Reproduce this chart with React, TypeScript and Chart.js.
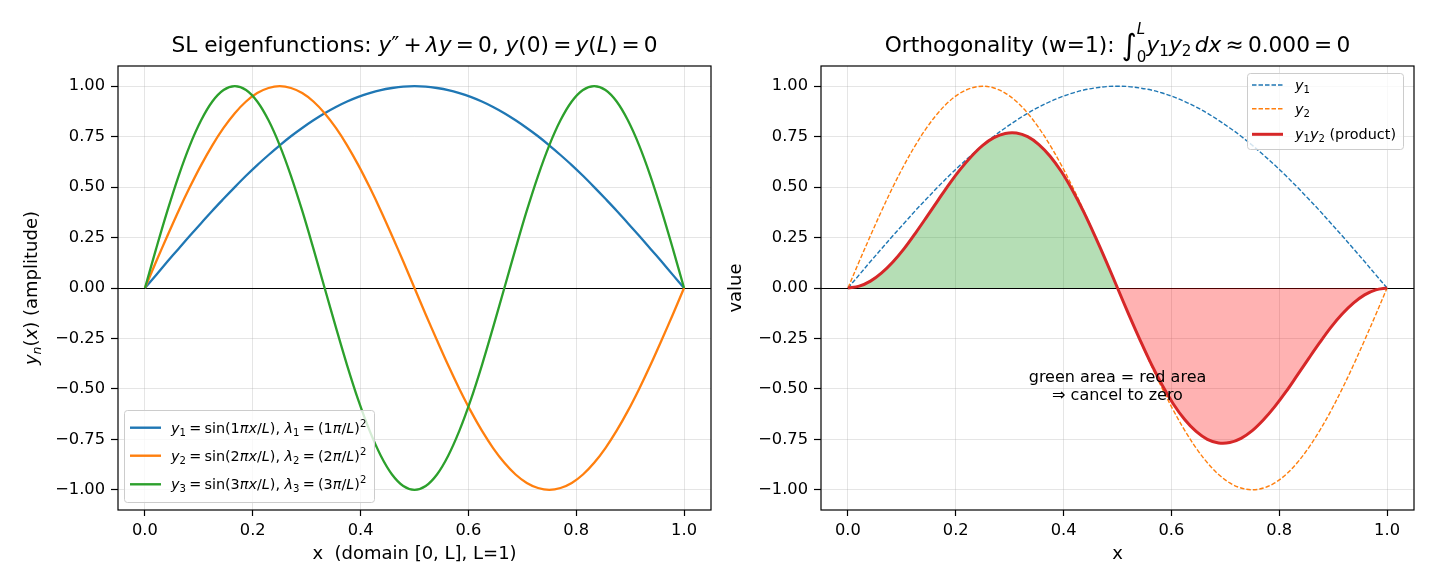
import React, { useEffect, useRef } from 'react';
import { Chart, registerables } from 'chart.js';

Chart.register(...registerables);

// sample positions x = 0 .. 1 (L = 1)
const xs = [0, 0.0208, 0.0417, 0.0625, 0.0833, 0.1042, 0.125, 0.1458, 0.1667, 0.1875, 0.2083, 0.2292, 0.25, 0.2708, 0.2917, 0.3125, 0.3333, 0.3542, 0.375, 0.3958, 0.4167, 0.4375, 0.4583, 0.4792, 0.5, 0.5208, 0.5417, 0.5625, 0.5833, 0.6042, 0.625, 0.6458, 0.6667, 0.6875, 0.7083, 0.7292, 0.75, 0.7708, 0.7917, 0.8125, 0.8333, 0.8542, 0.875, 0.8958, 0.9167, 0.9375, 0.9583, 0.9792, 1];

const y1 = [0, 0.065, 0.131, 0.195, 0.259, 0.321, 0.383, 0.442, 0.5, 0.556, 0.609, 0.659, 0.707, 0.752, 0.793, 0.831, 0.866, 0.897, 0.924, 0.947, 0.966, 0.981, 0.991, 0.998, 1, 0.998, 0.991, 0.981, 0.966, 0.947, 0.924, 0.897, 0.866, 0.831, 0.793, 0.752, 0.707, 0.659, 0.609, 0.556, 0.5, 0.442, 0.383, 0.321, 0.259, 0.195, 0.131, 0.065, 0];

const y2 = [0, 0.131, 0.259, 0.383, 0.5, 0.609, 0.707, 0.793, 0.866, 0.924, 0.966, 0.991, 1, 0.991, 0.966, 0.924, 0.866, 0.793, 0.707, 0.609, 0.5, 0.383, 0.259, 0.131, 0, -0.131, -0.259, -0.383, -0.5, -0.609, -0.707, -0.793, -0.866, -0.924, -0.966, -0.991, -1, -0.991, -0.966, -0.924, -0.866, -0.793, -0.707, -0.609, -0.5, -0.383, -0.259, -0.131, 0];

const y3 = [0, 0.195, 0.383, 0.556, 0.707, 0.831, 0.924, 0.981, 1, 0.981, 0.924, 0.831, 0.707, 0.556, 0.383, 0.195, 0, -0.195, -0.383, -0.556, -0.707, -0.831, -0.924, -0.981, -1, -0.981, -0.924, -0.831, -0.707, -0.556, -0.383, -0.195, 0, 0.195, 0.383, 0.556, 0.707, 0.831, 0.924, 0.981, 1, 0.981, 0.924, 0.831, 0.707, 0.556, 0.383, 0.195, 0];

const product = [0, 0.009, 0.034, 0.075, 0.129, 0.195, 0.271, 0.351, 0.433, 0.514, 0.588, 0.653, 0.707, 0.745, 0.766, 0.768, 0.75, 0.711, 0.653, 0.577, 0.483, 0.376, 0.257, 0.131, 0, -0.131, -0.257, -0.376, -0.483, -0.577, -0.653, -0.711, -0.75, -0.768, -0.766, -0.745, -0.707, -0.653, -0.588, -0.514, -0.433, -0.351, -0.271, -0.195, -0.129, -0.075, -0.034, -0.009, 0];

const xTicks = [0, 0.2, 0.4, 0.6, 0.8, 1.0];
const yTicks = [-1, -0.75, -0.5, -0.25, 0, 0.25, 0.5, 0.75, 1];

const FONT = '"DejaVu Sans", sans-serif';
const C0 = '#1f77b4';
const C1 = '#ff7f0e';
const C2 = '#2ca02c';
const C3 = '#d62728';

type Seg = { t: string; it?: boolean; s?: number; dy?: number; noAdv?: boolean };

function segFont(seg: Seg, size: number) {
  return `${seg.it ? 'italic ' : ''}${size * (seg.s ?? 1)}px ${FONT}`;
}

function measureRich(ctx: CanvasRenderingContext2D, segs: Seg[], size: number) {
  let w = 0;
  for (const sg of segs) {
    ctx.font = segFont(sg, size);
    if (!sg.noAdv) w += ctx.measureText(sg.t).width;
  }
  return w;
}

function drawRich(ctx: CanvasRenderingContext2D, segs: Seg[], x: number, y: number, size: number, align: 'left' | 'center' = 'left', color = '#000') {
  let cx = align === 'center' ? x - measureRich(ctx, segs, size) / 2 : x;
  ctx.save();
  ctx.fillStyle = color;
  ctx.textAlign = 'left';
  ctx.textBaseline = 'alphabetic';
  for (const sg of segs) {
    ctx.font = segFont(sg, size);
    ctx.fillText(sg.t, cx, y + (sg.dy ?? 0) * size);
    if (!sg.noAdv) cx += ctx.measureText(sg.t).width;
  }
  ctx.restore();
}

const SUB = { s: 0.7, dy: 0.2 };
const SP: Seg = { t: ' ', s: 0.6 };

const leftTitle: Seg[] = [
  { t: 'SL eigenfunctions: ' }, { t: 'y', it: true }, { t: '″' }, SP, { t: '+' }, SP, { t: 'λy', it: true },
  SP, { t: '=' }, SP, { t: '0, ' }, { t: 'y', it: true }, { t: '(0)' }, SP, { t: '=' }, SP, { t: 'y', it: true }, { t: '(' }, { t: 'L', it: true }, { t: ')' }, SP, { t: '=' }, SP, { t: '0' },
];

const rightTitle: Seg[] = [
  { t: 'Orthogonality (w=1): ' }, { t: '∫', s: 1.35, dy: 0.12 }, { t: 'L', it: true, s: 0.7, dy: -0.85, noAdv: true },
  { t: '0', s: 0.7, dy: 0.45 }, { t: 'y', it: true }, { t: '1', ...SUB }, { t: 'y', it: true }, { t: '2', ...SUB },
  { t: ' ', s: 0.5 }, { t: 'dx', it: true }, SP, { t: '≈' }, SP, { t: '0.000' }, SP, { t: '=' }, SP, { t: '0' },
];

function eigenLabel(n: string): Seg[] {
  const sp: Seg = { t: ' ', s: 0.7 };
  return [
    { t: 'y', it: true }, { t: n, ...SUB }, sp, { t: '=' }, sp, { t: 'sin(' + n }, { t: 'πx', it: true }, { t: '/' }, { t: 'L', it: true },
    { t: '), ' }, { t: 'λ', it: true }, { t: n, ...SUB }, sp, { t: '=' }, sp, { t: '(' + n }, { t: 'π', it: true }, { t: '/' }, { t: 'L', it: true },
    { t: ')' }, { t: '2', s: 0.7, dy: -0.42 },
  ];
}

const leftLegend = [
  { color: C0, dash: [] as number[], width: 2.4, segs: eigenLabel('1') },
  { color: C1, dash: [] as number[], width: 2.4, segs: eigenLabel('2') },
  { color: C2, dash: [] as number[], width: 2.4, segs: eigenLabel('3') },
];

const rightLegend = [
  { color: C0, dash: [4.5, 2], width: 1.4, segs: [{ t: 'y', it: true }, { t: '1', ...SUB }] as Seg[] },
  { color: C1, dash: [4.5, 2], width: 1.4, segs: [{ t: 'y', it: true }, { t: '2', ...SUB }] as Seg[] },
  { color: C3, dash: [] as number[], width: 3, segs: [{ t: 'y', it: true }, { t: '1', ...SUB }, { t: 'y', it: true }, { t: '2', ...SUB }, { t: ' (product)' }] as Seg[] },
];

const leftYLabel: Seg[] = [{ t: 'y', it: true }, { t: 'n', it: true, ...SUB }, { t: '(' }, { t: 'x', it: true }, { t: ') (amplitude)' }];

function pts(ys: number[]) {
  return xs.map((x, i) => ({ x, y: ys[i] }));
}

function drawLegend(ctx: CanvasRenderingContext2D, box: { l: number; t: number; r: number; b: number }, rows: number[], hx0: number, hx1: number, tx: number, items: typeof leftLegend) {
  ctx.save();
  ctx.beginPath();
  (ctx as any).roundRect(box.l + 0.5, box.t + 0.5, box.r - box.l, box.b - box.t, 3);
  ctx.fillStyle = 'rgba(255,255,255,0.8)';
  ctx.fill();
  ctx.strokeStyle = '#cccccc';
  ctx.lineWidth = 1;
  ctx.stroke();
  items.forEach((it, i) => {
    const y = rows[i];
    ctx.beginPath();
    ctx.setLineDash(it.dash);
    ctx.strokeStyle = it.color;
    ctx.lineWidth = it.width;
    ctx.moveTo(hx0, y);
    ctx.lineTo(hx1, y);
    ctx.stroke();
    ctx.setLineDash([]);
    drawRich(ctx, it.segs, tx, y + 5, 14.4);
  });
  ctx.restore();
}

function makeScales(yWidth: number) {
  const grid = { color: 'rgba(176,176,176,0.33)', lineWidth: 1, tickColor: '#000', tickWidth: 1.2, tickLength: 6, drawTicks: true };
  return {
    x: {
      type: 'linear' as const,
      min: -0.05,
      max: 1.05,
      afterBuildTicks: (s: any) => { s.ticks = xTicks.map((v) => ({ value: v })); },
      afterFit: (s: any) => { s.height = 75; },
      ticks: { callback: (v: any) => Number(v).toFixed(1), font: { family: FONT, size: 16.25 }, color: '#000', padding: 5, maxRotation: 0, autoSkip: false },
      grid,
      border: { display: false },
    },
    y: {
      type: 'linear' as const,
      min: -1.1,
      max: 1.1,
      afterBuildTicks: (s: any) => { s.ticks = yTicks.map((v) => ({ value: v })); },
      afterFit: (s: any) => { s.width = yWidth; },
      ticks: { callback: (v: any) => (v < 0 ? '\u2212' : '') + Math.abs(Number(v)).toFixed(2), font: { family: FONT, size: 16.25 }, color: '#000', padding: 6, autoSkip: false },
      grid: { ...grid, tickLength: 7 },
      border: { display: false },
    },
  };
}

function decoPlugin(opts: { title: Seg[]; xLabel: string; yLabel: Seg[]; yLabelX: number; legend: (ctx: CanvasRenderingContext2D) => void; extra?: (chart: any) => void }) {
  return {
    id: 'deco',
    beforeDatasetsDraw(chart: any) {
      const { ctx, chartArea: a, scales } = chart;
      const y0 = Math.round(scales.y.getPixelForValue(0)) + 0.5;
      ctx.save();
      ctx.strokeStyle = '#000';
      ctx.lineWidth = 1.2;
      ctx.beginPath();
      ctx.moveTo(a.left, y0);
      ctx.lineTo(a.right, y0);
      ctx.stroke();
      ctx.restore();
    },
    afterDraw(chart: any) {
      const { ctx, chartArea: a } = chart;
      ctx.save();
      ctx.strokeStyle = '#000';
      ctx.lineWidth = 1.2;
      ctx.strokeRect(a.left, a.top, a.right - a.left, a.bottom - a.top);
      ctx.restore();
      const cx = (a.left + a.right) / 2;
      const cy = (a.top + a.bottom) / 2;
      drawRich(ctx, opts.title, cx, 52, 21.7, 'center');
      drawRich(ctx, [{ t: opts.xLabel }], cx, 559, 18, 'center');
      ctx.save();
      ctx.translate(opts.yLabelX, cy);
      ctx.rotate(-Math.PI / 2);
      drawRich(ctx, opts.yLabel, 0, 0, 18, 'center');
      ctx.restore();
      if (opts.extra) opts.extra(chart);
      opts.legend(ctx);
    },
  };
}

function leftConfig(): any {
  return {
    type: 'line',
    data: {
      datasets: [
        { data: pts(y1), borderColor: C0, borderWidth: 2.3, order: 3 },
        { data: pts(y2), borderColor: C1, borderWidth: 2.3, order: 2 },
        { data: pts(y3), borderColor: C2, borderWidth: 2.3, order: 1 },
      ],
    },
    options: {
      responsive: false,
      animation: false,
      devicePixelRatio: 1,
      layout: { padding: { left: 0, right: 4, top: 66, bottom: 0 } },
      elements: { point: { radius: 0 }, line: { tension: 0.35, fill: false } },
      plugins: { legend: { display: false }, tooltip: { enabled: false }, title: { display: false } },
      scales: makeScales(118),
    },
    plugins: [
      decoPlugin({
        title: leftTitle,
        xLabel: 'x  (domain [0, L], L=1)',
        yLabel: leftYLabel,
        yLabelX: 37,
        legend: (ctx) => drawLegend(ctx, { l: 124, t: 410, r: 374, b: 502 }, [427.7, 455.7, 484.3], 130, 161, 171, leftLegend),
      }),
    ],
  };
}

function rightConfig(): any {
  return {
    type: 'line',
    data: {
      datasets: [
        { data: pts(y1), borderColor: C0, borderWidth: 1.4, borderDash: [4.5, 2], order: 3 },
        { data: pts(y2), borderColor: C1, borderWidth: 1.4, borderDash: [4.5, 2], order: 2 },
        {
          data: pts(product), borderColor: C3, borderWidth: 3, order: 1,
          fill: { target: { value: 0 }, above: 'rgba(44,160,44,0.35)', below: 'rgba(255,0,0,0.3)' },
        },
      ],
    },
    options: {
      responsive: false,
      animation: false,
      devicePixelRatio: 1,
      layout: { padding: { left: 0, right: 16, top: 66, bottom: 0 } },
      elements: { point: { radius: 0 }, line: { tension: 0.35 } },
      plugins: { legend: { display: false }, tooltip: { enabled: false }, title: { display: false } },
      scales: makeScales(106),
    },
    plugins: [
      decoPlugin({
        title: rightTitle,
        xLabel: 'x',
        yLabel: [{ t: 'value' }],
        yLabelX: 26,
        extra: (chart: any) => {
          const { ctx, scales } = chart;
          const px = scales.x.getPixelForValue(0.5);
          const py = scales.y.getPixelForValue(-0.5);
          drawRich(ctx, [{ t: 'green area = red area' }], px, py - 7, 16, 'center');
          drawRich(ctx, [{ t: '⇒ cancel to zero' }], px, py + 11, 16, 'center');
        },
        legend: (ctx) => drawLegend(ctx, { l: 532, t: 73, r: 688, b: 149 }, [85, 108.7, 134.3], 537, 568, 580, rightLegend),
      }),
    ],
  };
}

export default function App() {
  const leftRef = useRef<HTMLCanvasElement>(null);
  const rightRef = useRef<HTMLCanvasElement>(null);
  useEffect(() => {
    const c1 = new Chart(leftRef.current as HTMLCanvasElement, leftConfig());
    const c2 = new Chart(rightRef.current as HTMLCanvasElement, rightConfig());
    return () => {
      c1.destroy();
      c2.destroy();
    };
  }, []);
  return (
    <div style={{ position: 'absolute', left: 0, top: 0, width: 1430, height: 585, background: '#fff' }}>
      <canvas ref={leftRef} width={715} height={585} style={{ position: 'absolute', left: 0, top: 0, width: 715, height: 585 }} />
      <canvas ref={rightRef} width={715} height={585} style={{ position: 'absolute', left: 715, top: 0, width: 715, height: 585 }} />
    </div>
  );
}
